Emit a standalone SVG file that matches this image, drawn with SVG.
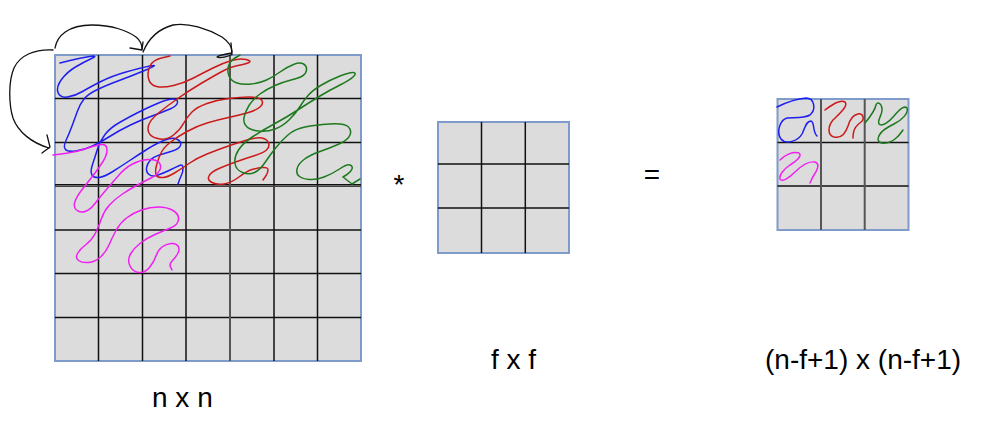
<svg xmlns="http://www.w3.org/2000/svg" width="995" height="425" viewBox="0 0 995 425">
<style>
.cell{fill:#DCDCDC;stroke:#7F9BC9;stroke-width:2}
.ln{stroke:#111;stroke-width:1.5}
.lg{stroke:#555;stroke-width:2}
.sc{fill:none;stroke-width:1.5;stroke-linecap:round;stroke-linejoin:round}
.b{stroke:#1F1FF0}.r{stroke:#CC1A1A}.g{stroke:#1E7A1E}.m{stroke:#F020F0}
.ar{fill:none;stroke:#111;stroke-width:1.3;stroke-linecap:round;stroke-linejoin:round}
.t{font-family:"Liberation Sans",Arial,sans-serif;font-size:28px;fill:#000}
</style>
<rect width="995" height="425" fill="#fff"/>
<g id="input-grid">
<rect class="cell" x="55" y="55" width="306" height="306"/>
<g class="ln">
<line x1="98.5" y1="55" x2="98.5" y2="361"/>
<line x1="142.5" y1="55" x2="142.5" y2="361"/>
<line x1="186" y1="55" x2="186" y2="361"/>
<line x1="274" y1="55" x2="274" y2="361"/>
<line x1="317.5" y1="55" x2="317.5" y2="361"/>
<line x1="55" y1="98.5" x2="361" y2="98.5"/>
<line x1="55" y1="142.5" x2="361" y2="142.5"/>
<line x1="55" y1="184.8" x2="361" y2="184.8"/>
<line x1="55" y1="230" x2="361" y2="230"/>
<line x1="55" y1="273.5" x2="361" y2="273.5"/>
<line x1="55" y1="317.5" x2="361" y2="317.5"/>
</g>
<line class="lg" x1="230" y1="55" x2="230" y2="361"/>
<line x1="55" y1="186.3" x2="361" y2="186.3" stroke="#444" stroke-width="1.3"/>
</g>
<g id="scribbles-input">
<path class="sc b" d="M60,63 L70,60.5 Q80,58 89.5,56.5 Q99,55 91.5,58.5 Q84,62 75.5,67 Q67,72 61.5,79.5 Q56,87 58,92.5 Q60,98 67.5,97 Q75,96 82.5,91.5 Q90,87 101,81.5 Q112,76 126,72 Q140,68 150,66 Q160,64 147,69.5 Q134,75 120.5,80 Q107,85 97.5,89.5 Q88,94 84,99 Q80,104 77.5,111 Q75,118 72,126 Q69,134 66,140.5 Q63,147 65.5,149.5 Q68,152 76,151 Q84,150 92.5,146 Q101,142 110.5,136 Q120,130 130.5,125 Q141,120 152,116 Q163,112 170,109 Q177,106 177.5,102.5 Q178,99 173,99 Q168,99 158.5,103 Q149,107 139,112 Q129,117 119.5,122.5 Q110,128 105,134.5 Q100,141 97.5,149 Q95,157 92.5,164.5 Q90,172 92,175 Q94,178 99,177.5 Q104,177 112,172 Q120,167 129,161 Q138,155 147.5,149 Q157,143 165,140 Q173,137 177.5,139.5 Q182,142 180.5,145.5 Q179,149 172.5,151 Q166,153 159.5,155 Q153,157 150,160.5 Q147,164 146.5,168 Q146,172 149,174.5 Q152,177 158,175 Q164,173 170,170 Q176,167 179.5,165.5 Q183,164 183,168 Q183,172 181.5,175 Q180,178 178,184"/>
<path class="sc r" d="M170,56 L161.5,58 Q153,60 150,66 Q147,72 148.5,78.5 Q150,85 156.5,86.5 Q163,88 173.5,85.5 Q184,83 193.5,78 Q203,73 213,68 Q223,63 231.5,60.5 Q240,58 246,59.5 Q252,61 249,62.5 Q246,64 238,65.5 Q230,67 221,72 Q212,77 201,83.5 Q190,90 178.5,98 Q167,106 158.5,113 Q150,120 148.5,125.5 Q147,131 150,134.5 Q153,138 160,139 Q167,140 173.5,135 Q180,130 183.5,123.5 Q187,117 192,112 Q197,107 207,103.5 Q217,100 228.5,98.5 Q240,97 249.5,97 Q259,97 261.5,100 Q264,103 260.5,106.5 Q257,110 248.5,112.5 Q240,115 228.5,117.5 Q217,120 207,123 Q197,126 187,131.5 Q177,137 170,142.5 Q163,148 160,155 Q157,162 156,167.5 Q155,173 156.5,175.5 Q158,178 163,177.5 Q168,177 174.5,173 Q181,169 189,163.5 Q197,158 207,154 Q217,150 227,146.5 Q237,143 247,140 Q257,137 262,138 Q267,139 268.5,143 Q270,147 266.5,150 Q263,153 255,155.5 Q247,158 237,161.5 Q227,165 219,168.5 Q211,172 209,176 Q207,180 212,182.5 Q217,185 224,184 Q231,183 239,177 Q247,171 252,169.5 Q257,168 262.5,167.5 Q268,167 268,170 Q268,173 265.5,176.5 L263,180"/>
<path class="sc g" d="M240,55 L235,58 Q230,61 228.5,66 Q227,71 229,76 Q231,81 237,83 Q243,85 251.5,84 Q260,83 266.5,80 Q273,77 280,72 Q287,67 293.5,64.5 Q300,62 303.5,64 Q307,66 306.5,70 Q306,74 302.5,76 Q299,78 291,80 Q283,82 275,85.5 Q267,89 260,94 Q253,99 249,105.5 Q245,112 244,117.5 Q243,123 246.5,126.5 Q250,130 258.5,131 Q267,132 275,129 Q283,126 289.5,119.5 Q296,113 300,106.5 Q304,100 308.5,95 Q313,90 321.5,85 Q330,80 340,76 Q350,72 353.5,72.5 Q357,73 353.5,76.5 Q350,80 340,85 Q330,90 320,96 Q310,102 298.5,109.5 Q287,117 275,123.5 Q263,130 253,136.5 Q243,143 238.5,150 Q234,157 235,163.5 Q236,170 242.5,172.5 Q249,175 254.5,172.5 Q260,170 265,162.5 Q270,155 276,147.5 Q282,140 288.5,134.5 Q295,129 305,127 Q315,125 329.5,124 Q344,123 348,126.5 Q352,130 350,135 Q348,140 339,144 Q330,148 320,151.5 Q310,155 304,159.5 Q298,164 297,169 Q296,174 299.5,176.5 Q303,179 309.5,179.5 Q316,180 324,177 Q332,174 339.5,169 Q347,164 350,165 Q353,166 352,169 Q351,172 347,174.5 L343,177 L352,184 L360,179"/>
<path class="sc m" d="M53,155 L65,153.5 Q77,152 88,148 Q99,144 103,144.5 Q107,145 107,150 Q107,155 103,161.5 Q99,168 93.5,175 Q88,182 82.5,189 Q77,196 75,201.5 Q73,207 76.5,210 Q80,213 85,211.5 Q90,210 95,203.5 Q100,197 106,190 Q112,183 118.5,175.5 Q125,168 132.5,164 Q140,160 148,159.5 Q156,159 159,162.5 Q162,166 159.5,170.5 Q157,175 151,178 Q145,181 137.5,185 Q130,189 122.5,194 Q115,199 109.5,205 Q104,211 101.5,218.5 Q99,226 95.5,233 Q92,240 86,244.5 Q80,249 77.5,253.5 Q75,258 78.5,260.5 Q82,263 88.5,262.5 Q95,262 100.5,257 Q106,252 109,245 Q112,238 116,230.5 Q120,223 126.5,218 Q133,213 141.5,210 Q150,207 158.5,207 Q167,207 173,210.5 Q179,214 178.5,219.5 Q178,225 170.5,228 Q163,231 155,234.5 Q147,238 140.5,243 Q134,248 130.5,254 Q127,260 130,266 Q133,272 139,272.5 Q145,273 149.5,267.5 Q154,262 156,256 Q158,250 162,247 Q166,244 171,243.5 Q176,243 178,246 Q180,249 178,253 Q176,257 172.5,260.5 Q169,264 170.5,267 L172,270"/>
</g>
<g id="connectors">
<path class="ar" d="M55,48 C57,36 68,25 92,25 C112,25 128,31 136,37 C141,41 142,45 142,49"/>
<path class="ar" d="M130,48 L142,50 L143,42"/>
<path class="ar" d="M143,52 C148,40 158,29 173,25 C188,22 208,29 222,37 C229,42 232,46 232,52"/>
<path class="ar" d="M232,53 C226,54 219,55 217,57 C220,58.5 228,56.5 232,54.5 L231,43"/>
<path class="ar" d="M53,50 C35,49 20,55 14,68 C8,82 9,105 13,118 C18,132 32,143 49,148"/>
<path class="ar" d="M47,135 L50,147 L42,153"/>
</g>
<g id="op-star"><text class="t" x="399" y="194" text-anchor="middle">*</text></g>
<g id="filter-grid">
<rect class="cell" x="438" y="122" width="131" height="131"/>
<g class="ln">
<line x1="481.5" y1="122" x2="481.5" y2="253"/>
<line x1="525.3" y1="122" x2="525.3" y2="253"/>
<line x1="438" y1="164" x2="569" y2="164"/>
<line x1="438" y1="208" x2="569" y2="208"/>
</g>
</g>
<g id="op-equals"><text class="t" x="652" y="184" text-anchor="middle">=</text></g>
<g id="output-grid">
<rect class="cell" x="777.5" y="99" width="131" height="131"/>
<g class="ln">
<line x1="777.5" y1="142.5" x2="908.5" y2="142.5"/>
<line x1="777.5" y1="186" x2="908.5" y2="186"/>
</g>
<g class="lg">
<line x1="821" y1="99" x2="821" y2="230"/>
<line x1="864.7" y1="99" x2="864.7" y2="230"/>
</g>
</g>
<g id="scribbles-output">
<path class="sc b" d="M777,107 C785,103 795,99 806,98 C815,98 816,110 810,115 C803,119 792,117 787,118 C780,120 776,132 781,139 C786,145 798,141 802,134 C805,128 806,121 811,121 C815,122 812,131 817,136"/>
<path class="sc r" d="M825,110 C832,105 840,99 845,102 C849,106 838,115 833,120 C828,126 827,135 834,137 C842,139 846,132 848,126 C850,119 853,115 858,114 C863,113 865,119 861,122 C857,125 853,128 853,138"/>
<path class="sc g" d="M865,123 C870,117 875,110 876,105 C877,101 882,103 882,110 C882,116 877,120 879,124 C882,127 889,122 894,116 C899,110 904,105 907,108 C909,113 902,120 894,124 C886,128 879,132 878,139 C878,145 889,144 895,139 C899,136 901,133 903,130"/>
<path class="sc m" d="M780,160 C785,155 793,151 799,153 C803,156 795,162 790,165 C784,169 779,175 780,179 C782,183 790,177 795,172 C801,166 808,161 815,162 C821,164 816,172 814,175 C812,178 811,181 810,183"/>
</g>
<g id="labels">
<text class="t" x="152" y="407">n x n</text>
<text class="t" x="491" y="369">f x f</text>
<text class="t" x="765" y="369">(n-f+1) x (n-f+1)</text>
</g>
</svg>
